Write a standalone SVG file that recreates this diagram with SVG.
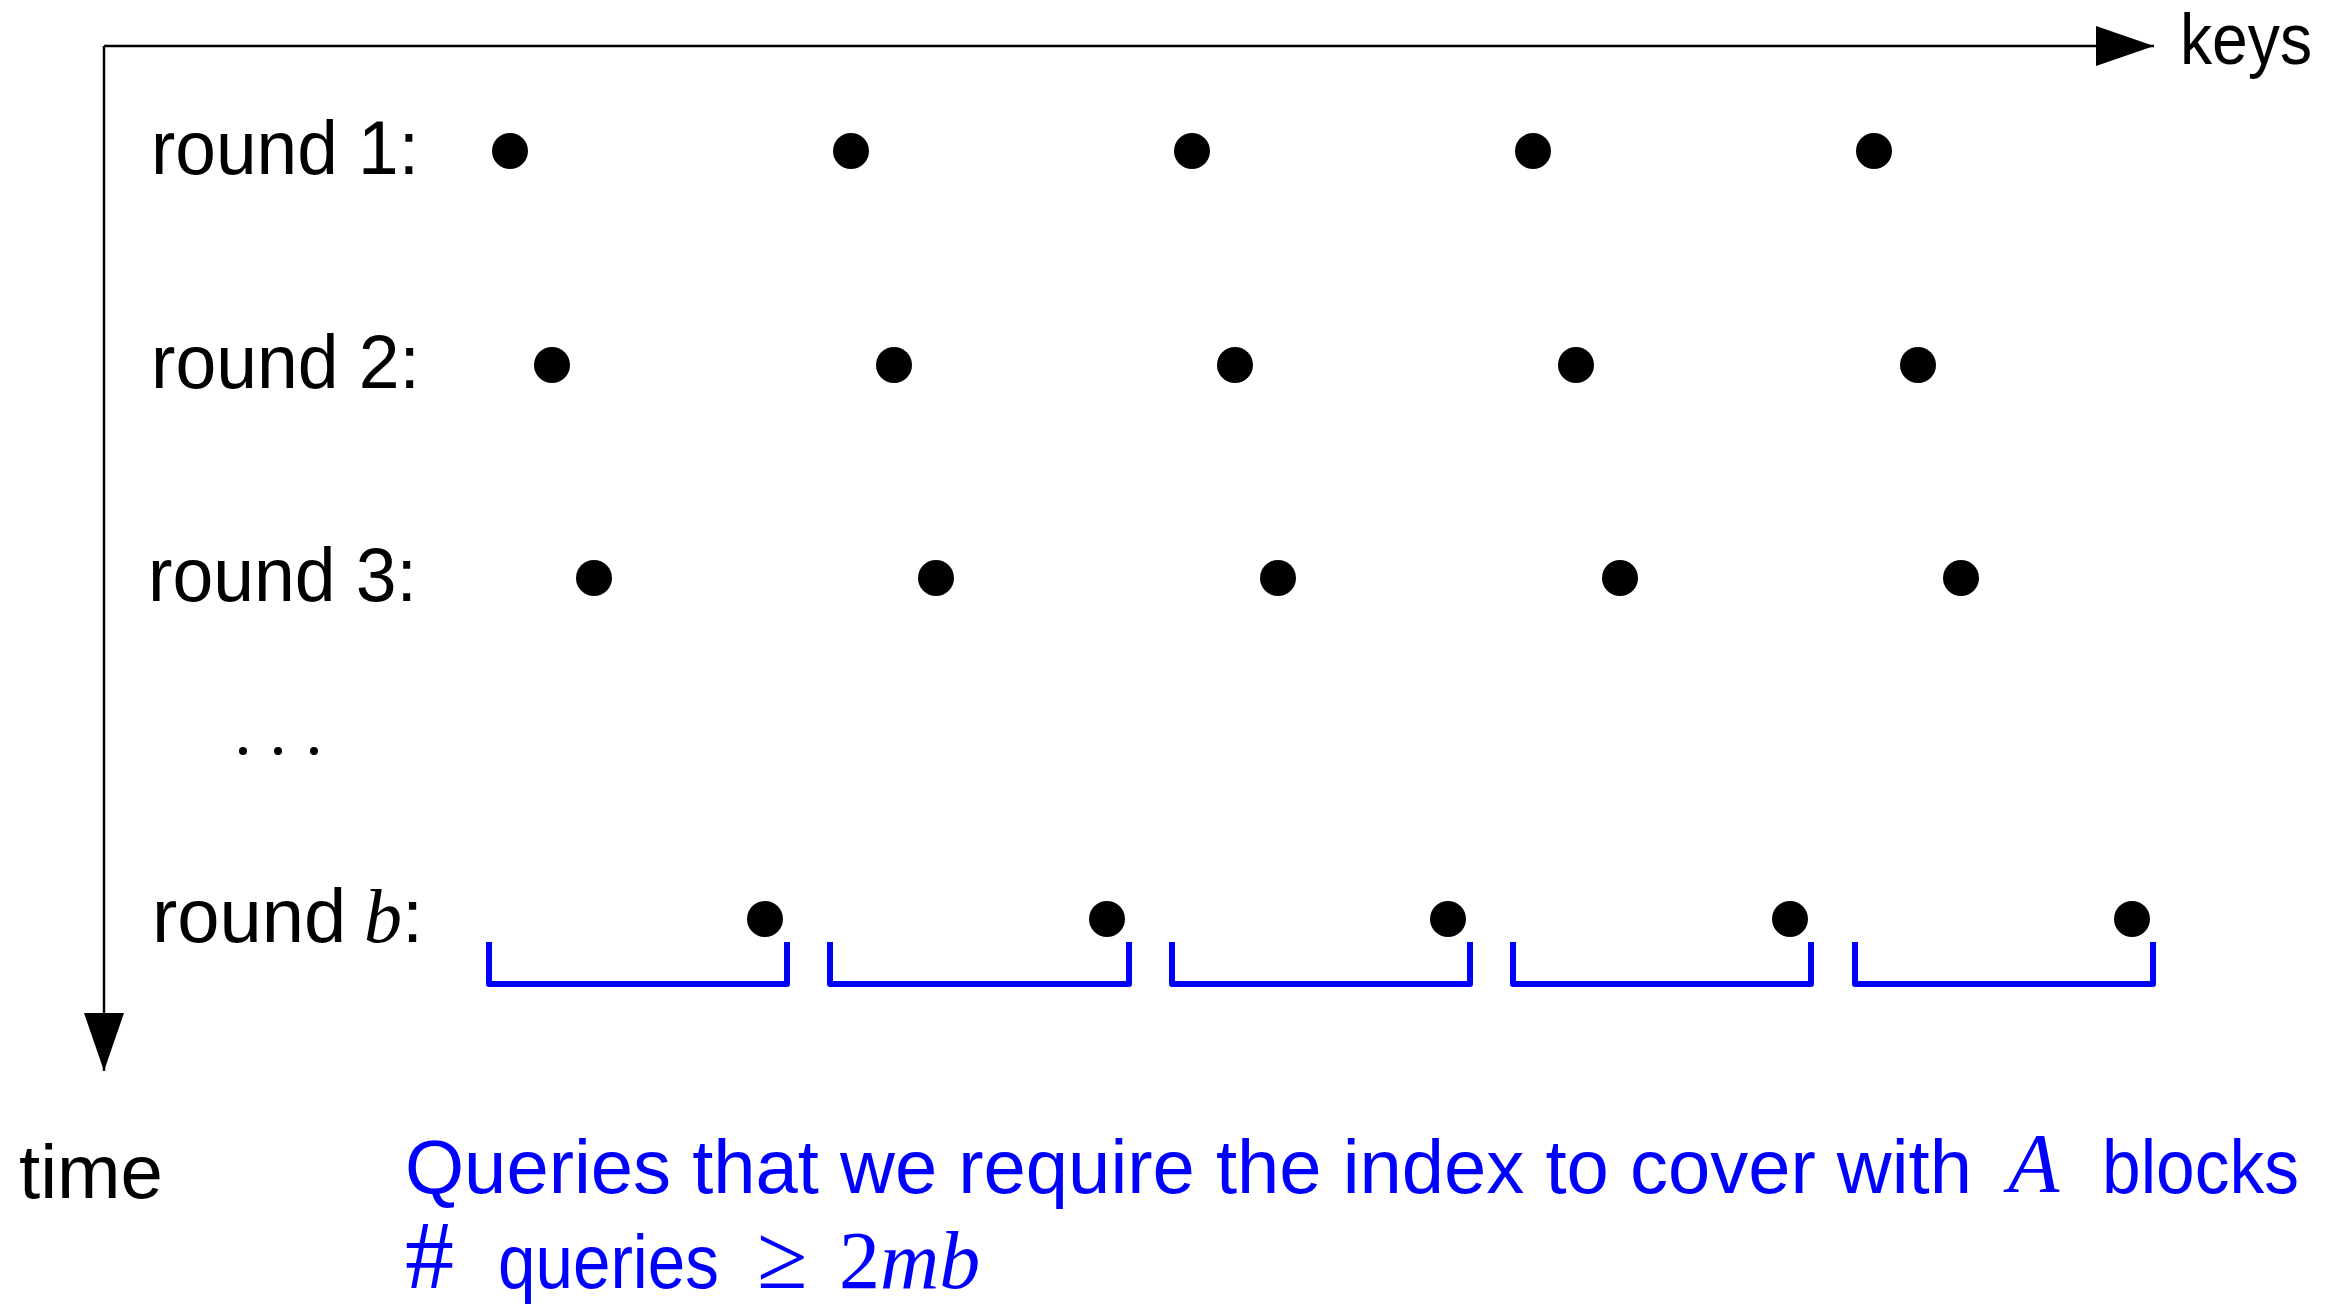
<svg xmlns="http://www.w3.org/2000/svg" width="2351" height="1306" viewBox="0 0 2351 1306">
<style>
.t{font-family:"Liberation Sans",Arial,sans-serif;font-size:76px;fill:#000}
.m{font-family:"Liberation Serif","Times New Roman",serif;font-style:italic}
.r{font-family:"Liberation Serif","Times New Roman",serif;font-style:normal}
.blue{fill:#0000FF}
.dot{fill:#000}
.ax{stroke:#000;stroke-width:2.5;fill:none}
.br{stroke:#0000FF;stroke-width:6;fill:none;stroke-linejoin:round}
</style>
<defs>
<marker id="ah" markerUnits="userSpaceOnUse" markerWidth="60" markerHeight="42" refX="58" refY="20" orient="auto" viewBox="0 0 60 42">
<path d="M0,0 L58,20 L0,40 Z" fill="#000"/>
</marker>
</defs>
<rect width="2351" height="1306" fill="#fff"/>
<g id="connectors">
<path class="ax" d="M104,46 L2154,46" marker-end="url(#ah)"/>
<path class="ax" d="M104,46 L104,1071" marker-end="url(#ah)"/>
</g>
<g id="axis-labels">
<text class="t" x="2180" y="64" style="font-size:72px" textLength="132" lengthAdjust="spacingAndGlyphs">keys</text>
<text class="t" x="19" y="1198" textLength="144" lengthAdjust="spacingAndGlyphs">time</text>
</g>
<g id="round1">
<text class="t" x="151" y="174" textLength="268" lengthAdjust="spacingAndGlyphs">round 1:</text>
<circle class="dot" cx="510" cy="151" r="18"/>
<circle class="dot" cx="851" cy="151" r="18"/>
<circle class="dot" cx="1192" cy="151" r="18"/>
<circle class="dot" cx="1533" cy="151" r="18"/>
<circle class="dot" cx="1874" cy="151" r="18"/>
</g>
<g id="round2">
<text class="t" x="151" y="388" textLength="269" lengthAdjust="spacingAndGlyphs">round 2:</text>
<circle class="dot" cx="552" cy="365" r="18"/>
<circle class="dot" cx="894" cy="365" r="18"/>
<circle class="dot" cx="1235" cy="365" r="18"/>
<circle class="dot" cx="1576" cy="365" r="18"/>
<circle class="dot" cx="1918" cy="365" r="18"/>
</g>
<g id="round3">
<text class="t" x="148" y="601" textLength="269" lengthAdjust="spacingAndGlyphs">round 3:</text>
<circle class="dot" cx="594" cy="578" r="18"/>
<circle class="dot" cx="936" cy="578" r="18"/>
<circle class="dot" cx="1278" cy="578" r="18"/>
<circle class="dot" cx="1620" cy="578" r="18"/>
<circle class="dot" cx="1961" cy="578" r="18"/>
</g>
<g id="ellipsis">
<circle class="dot" cx="243" cy="751" r="4"/>
<circle class="dot" cx="278" cy="751" r="4"/>
<circle class="dot" cx="314" cy="751" r="4"/>
</g>
<g id="roundb">
<text class="t" x="152" y="942">round <tspan class="m" x="364">b</tspan><tspan x="402">:</tspan></text>
<circle class="dot" cx="765" cy="919" r="18"/>
<circle class="dot" cx="1107" cy="919" r="18"/>
<circle class="dot" cx="1448" cy="919" r="18"/>
<circle class="dot" cx="1790" cy="919" r="18"/>
<circle class="dot" cx="2132" cy="919" r="18"/>
</g>
<g id="brackets">
<path class="br" d="M489,942 V984 H787 V942"/>
<path class="br" d="M830,942 V984 H1129 V942"/>
<path class="br" d="M1172,942 V984 H1470 V942"/>
<path class="br" d="M1513,942 V984 H1811 V942"/>
<path class="br" d="M1855,942 V984 H2153 V942"/>
</g>
<g id="caption">
<text class="t blue" x="405" y="1193" textLength="1567">Queries that we require the index to cover with</text>
<text class="t blue m" x="2008" y="1192" style="font-size:84px">A</text>
<text class="t blue" x="2102" y="1193" textLength="197" lengthAdjust="spacingAndGlyphs">blocks</text>
<text class="t blue r" x="405" y="1288" style="font-size:98px">#</text>
<text class="t blue" x="498" y="1288" textLength="221" lengthAdjust="spacingAndGlyphs">queries</text>
<text class="t blue r" x="757" y="1288" style="font-size:92px">≥</text>
<text class="t blue" x="839" y="1288" style="font-size:82px"><tspan class="r">2</tspan><tspan class="m">mb</tspan></text>
</g>
</svg>
